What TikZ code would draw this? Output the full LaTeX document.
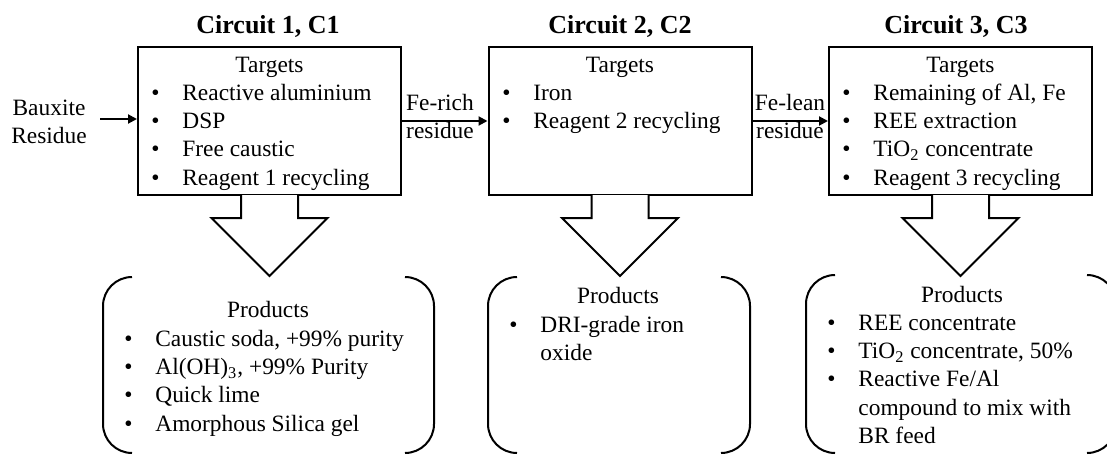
\documentclass[tikz,border=0pt]{standalone}
\usepackage{fontspec}
\setmainfont{Liberation Serif}
\usetikzlibrary{calc,arrows.meta}
\newcommand\bl{\makebox[15.5pt][l]{•}}
\newcommand\blockarr[1]{%
  \draw[line width=1pt,fill=white,line join=miter]
    ($(#1.south)+(-28.5,-1)$) -- ($(#1.south)+(-28.5,22)$) -- ($(#1.south)+(-58,22)$)
    -- ($(#1.south)+(0,80)$) -- ($(#1.south)+(58,22)$) -- ($(#1.south)+(28.5,22)$)
    -- ($(#1.south)+(28.5,-1)$);}
\tikzset{
  box/.style={draw, line width=1pt, minimum width=131.5pt, minimum height=74pt, inner sep=0pt},
  txt/.style={inner sep=0pt, font=\fontsize{11.7}{14.2}\selectfont},
  ttl/.style={inner sep=0pt, font=\fontsize{13}{15}\selectfont\bfseries, anchor=base},
  flow/.style={line width=1pt, -{Triangle[length=4.5pt,width=4.5pt]}},
  brk/.style={line width=1pt, rounded corners=14.5pt},
}
\begin{document}
\begin{tikzpicture}[x=0.5pt,y=-0.5pt]
\useasboundingbox (0,0) rectangle (1107,455);
% boxes
\node[box] (c1) at (269.5,121) {};
\node[box] (c2) at (620,121) {};
\node[box] (c3) at (960.5,121) {};
% titles
\node[ttl] (t1) at (268,33) {Circuit 1, C1};
\node[ttl] (t2) at (620,33) {Circuit 2, C2};
\node[ttl] (t3) at (956,33) {Circuit 3, C3};
% targets
\node[txt,anchor=base] (h1) at (269.5,72) {Targets};
\node[txt,anchor=base] (h2) at (620,72) {Targets};
\node[txt,anchor=base] (h3) at (960.5,72) {Targets};
\node[txt,anchor=base west] (l1) at (151,100) {\begin{tabular}[t]{@{}l@{}}
\bl Reactive aluminium\\ \bl DSP\\ \bl Free caustic\\ \bl Reagent 1 recycling\end{tabular}};
\node[txt,anchor=base west] (l2) at (502,100) {\begin{tabular}[t]{@{}l@{}}
\bl Iron\\ \bl Reagent 2 recycling\end{tabular}};
\node[txt,anchor=base west] (l3) at (842,100) {\begin{tabular}[t]{@{}l@{}}
\bl Remaining of Al, Fe\\ \bl REE extraction\\ \bl TiO\textsubscript{2} concentrate\\ \bl Reagent 3 recycling\end{tabular}};
% flows
\node[txt,anchor=base] (bx) at (49,115) {\begin{tabular}[t]{@{}c@{}}Bauxite\\Residue\end{tabular}};
\node[txt,anchor=base] (fr) at (440,110) {\begin{tabular}[t]{@{}c@{}}Fe-rich\\residue\end{tabular}};
\node[txt,anchor=base] (fl) at (790,110) {\begin{tabular}[t]{@{}c@{}}Fe-lean\\residue\end{tabular}};
\coordinate (src) at (100,119);
\draw[flow] (src) -- (src -| c1.west);
\draw[flow] (c1.east) -- (c1.east -| c2.west);
\draw[flow] (c2.east) -- (c2.east -| c3.west);
% block arrows
\blockarr{c1}
\blockarr{c2}
\blockarr{c3}
% product brackets
\draw[brk] (132,277) -- (103,277) -- (103,453) -- (132,453);
\draw[brk] (405,277) -- (434,277) -- (434,453) -- (405,453);
\draw[brk] (517,277) -- (488,277) -- (488,453) -- (517,453);
\draw[brk] (721,277) -- (750,277) -- (750,453) -- (721,453);
\draw[brk] (835,275) -- (806,275) -- (806,453) -- (835,453);
\draw[brk] (1087,275) -- (1116,275) -- (1116,453) -- (1087,453);
% products
\node[txt,anchor=base] (p1) at (268,317) {Products};
\node[txt,anchor=base] (p2) at (618,303) {Products};
\node[txt,anchor=base] (p3) at (962,302) {Products};
\node[txt,anchor=base west] (q1) at (124,346) {\begin{tabular}[t]{@{}l@{}}
\bl Caustic soda, +99\% purity\\ \bl Al(OH)\textsubscript{3}, +99\% Purity\\ \bl Quick lime\\ \bl Amorphous Silica gel\end{tabular}};
\node[txt,anchor=base west] (q2) at (509,332) {\begin{tabular}[t]{@{}l@{}}
\bl DRI-grade iron\\ \hspace*{15.5pt}oxide\end{tabular}};
\node[txt,anchor=base west] (q3) at (827,330) {\begin{tabular}[t]{@{}l@{}}
\bl REE concentrate\\ \bl TiO\textsubscript{2} concentrate, 50\%\\ \bl Reactive Fe/Al\\ \hspace*{15.5pt}compound to mix with\\ \hspace*{15.5pt}BR feed\end{tabular}};
\end{tikzpicture}
\end{document}
